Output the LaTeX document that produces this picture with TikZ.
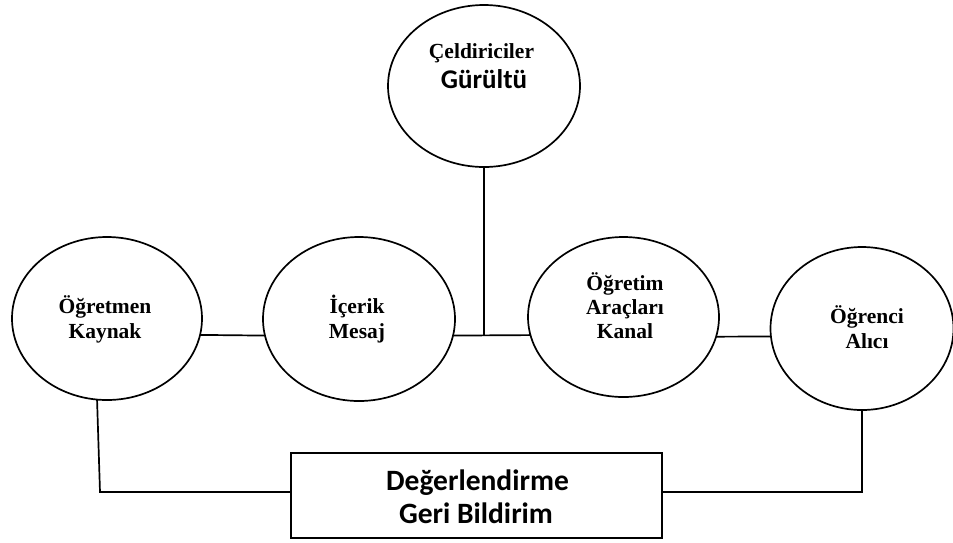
\documentclass[tikz,border=0pt]{standalone}
\usepackage{fontspec}
\setmainfont{Liberation Serif}
\newfontfamily\carlito{Carlito}
\usetikzlibrary{shapes.geometric}
\begin{document}
\begin{tikzpicture}[x=1pt,y=-1pt,
  oval/.style={draw, ellipse, line width=1.7pt, inner sep=0pt, outer sep=0pt},
  conn/.style={line width=1.7pt},
  boxst/.style={draw, rectangle, line width=1.7pt, inner sep=0pt, outer sep=0pt},
  serif/.style={anchor=base, inner sep=0pt, font=\fontsize{21.5}{25}\selectfont\bfseries},
  sansb/.style={anchor=base, inner sep=0pt, font=\fontsize{27}{32}\selectfont\carlito\bfseries},
  sansc/.style={anchor=base, inner sep=0pt, font=\fontsize{29.5}{34}\selectfont\carlito\bfseries}]
\useasboundingbox (0,0) rectangle (953,542);
% shapes
\node[oval, minimum width=190pt, minimum height=163pt] (A) at (107,318.5) {};
\node[oval, minimum width=192pt, minimum height=164pt] (B) at (359,319) {};
\node[oval, minimum width=191pt, minimum height=160pt] (C) at (623.5,317) {};
\node[oval, minimum width=183pt, minimum height=163pt] (D) at (862,328.5) {};
\node[oval, minimum width=192pt, minimum height=162pt] (T) at (484,86) {};
\node[boxst, minimum width=371pt, minimum height=85pt] (box) at (476.5,495.5) {};
% texts
\node[serif] (a1) at (105,313) {Öğretmen};
\node[serif] (a2) at (105,338) {Kaynak};
\node[serif] (b1) at (357,313) {İçerik};
\node[serif] (b2) at (357,338) {Mesaj};
\node[serif] (c1) at (625,290) {Öğretim};
\node[serif] (c2) at (625,314) {Araçları};
\node[serif] (c3) at (625,338) {Kanal};
\node[serif] (d1) at (867,323) {Öğrenci};
\node[serif] (d2) at (867,348) {Alıcı};
\node[serif] (t1) at (481.5,58) {Çeldiriciler};
\node[sansb] (t2) at (484,88) {Gürültü};
\node[sansc] (e1) at (477.5,490) {Değerlendirme};
\node[sansc] (e2) at (476,523) {Geri Bildirim};
% connectors
\draw[conn] (A.-10.7) -- (B.190.3);
\draw[conn] (B.-10.3) -- (C.191.6);
\draw[conn] (C.-12.2) -- (D.185.3);
\coordinate (j) at (T.south |- B.-10.3);
\draw[conn] (T.south) -- (j);
\coordinate (fl) at (100,492);
\draw[conn] (A.263) -- (fl) -- (fl -| box.west);
\coordinate (fr) at (D.south |- fl);
\draw[conn] (D.south) -- (fr) -- (fr -| box.east);
\end{tikzpicture}
\end{document}
